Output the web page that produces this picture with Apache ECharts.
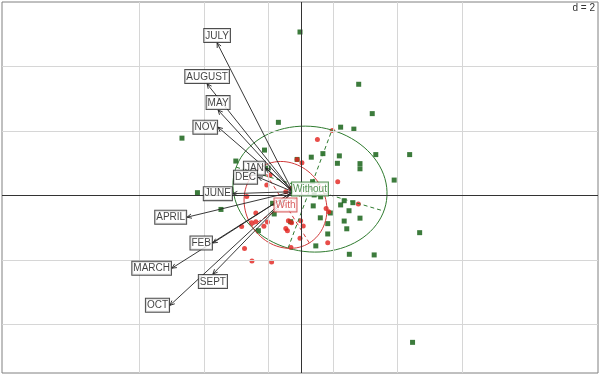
<!DOCTYPE html>
<html>
<head>
<meta charset="utf-8">
<script src="https://cdn.jsdelivr.net/npm/echarts@6/dist/echarts.min.js"></script>
<style>
  html, body { margin: 0; padding: 0; background: #fff; }
  #chart-container { width: 600px; height: 375px; }
</style>
</head>
<body>
<div id="chart-container"></div>
<script>
// 月份箭头 (arrow tips, factor-map units, d = 2)
var months = ['JULY', 'AUGUST', 'MAY', 'NOV', 'JAN', 'DEC', 'JUNE', 'APRIL', 'FEB', 'MARCH', 'SEPT', 'OCT'];
var monthX = [-2.60, -2.91, -2.57, -2.57, -1.09, -1.33, -2.11, -3.53, -2.73, -4.00, -2.73, -4.06];
var monthY = [4.73, 3.46, 2.65, 2.12, 0.85, 0.57, 0.06, -0.67, -1.47, -2.25, -2.43, -3.40];
var arrowOrigin = [-0.25, 0.12];

// 点 - Without (green squares)
var withoutX = [-0.03, 1.79, 2.21, 1.23, 1.64, 0.32, 0.68, 1.19, 1.13, 2.32, 3.37, 1.83, 1.83, 2.89, 0.36, 1.34,
  1.61, 1.23, 1.49, 0.91, 0.60, 1.34, 1.83, 0.83, 1.42, 0.83, 0.46, 1.50, 2.27, 3.68, 3.46, 0.41, 0.61, 0.38,
  -0.70, -1.13, -2.02, -0.12, -1.02, -0.88, -0.83, -1.32, -0.32, -3.21, -2.48, -3.69];
var withoutY = [5.07, 3.45, 2.54, 2.12, 2.06, 1.19, 1.30, 1.23, 1.00, 1.27, 1.27, 0.99, 0.83, 0.48, 0.43, -0.16,
  -0.22, -0.29, -0.47, -0.54, -0.69, -0.79, -0.70, -0.87, -1.03, -1.19, -1.56, -1.82, -1.84, -1.15, -4.55, 0.02, -0.04, -0.32,
  2.27, 1.41, 1.07, 1.12, 0.85, -0.24, -0.57, -1.09, -0.81, 0.09, -0.43, 1.78];

// 点 - With (red dots)
var withX = [0.97, 0.51, 1.14, 0.03, 1.78, 0.78, 0.86, -0.01, 0.07, 0.83, -0.03, -0.96, -1.06, -0.31, -0.47, -1.68,
  -1.40, -0.39, -0.29, -1.40, -1.15, -1.04, -1.84, -0.47, -0.42, -0.31, -1.75, -1.52, -0.91, -1.53, -0.12];
var withY = [2.02, 1.74, 0.43, 1.02, -0.26, -0.40, -0.50, -0.78, -0.94, -1.46, -1.32, 0.64, 0.33, 0.22, 0.12, -0.03,
  -0.54, -0.78, -0.84, -0.81, -0.95, -0.82, -0.96, -1.02, -1.09, -1.61, -1.64, -2.03, -2.06, -0.84, 1.12];

// 类别 (class centres and ellipse half-axes)
var classNames = ['Without', 'With'];
var classColors = ['#2e7a2e', '#d03a3a'];
var centreX = [0.28, -0.48];
var centreY = [0.20, -0.29];
var ellAxis1 = [[0.68, 1.83], [-0.74, 1.18]];
var ellAxis2 = [[2.29, -0.68], [1.05, 0.65]];

// 网格线
var gridX = [-5, -3, -1, 1, 3, 5];
var gridY = [-4, -2, 2, 4];

var container = document.getElementById('chart-container');
var myChart = echarts.init(container);

function zip(xs, ys) {
  return xs.map(function (x, i) { return [x, ys[i]]; });
}

// label position: above if the arrow is mostly vertical, else at the side
function labelPos(i) {
  var dx = monthX[i] - arrowOrigin[0];
  var dy = monthY[i] - arrowOrigin[1];
  if (Math.abs(dy) > Math.abs(dx)) return dy > 0 ? 'top' : 'bottom';
  return dx < 0 ? 'left' : 'right';
}

var gridLines = gridX.map(function (v) { return { xAxis: v }; })
  .concat(gridY.map(function (v) { return { yAxis: v }; }));

myChart.setOption({
  animation: false,
  grid: {
    left: 2, right: 2, top: 2, bottom: 2,
    show: true,
    borderColor: '#808080',
    borderWidth: 1
  },
  xAxis: {
    type: 'value', min: -9.27, max: 9.21,
    axisLine: { show: false }, axisTick: { show: false },
    axisLabel: { show: false }, splitLine: { show: false }
  },
  yAxis: {
    type: 'value', min: -5.50, max: 6.0,
    axisLine: { show: false }, axisTick: { show: false },
    axisLabel: { show: false }, splitLine: { show: false }
  },
  graphic: [{
    type: 'text',
    right: 5, top: 3,
    style: { text: 'd = 2', fill: '#333', font: '10px "Liberation Sans", Arial, sans-serif' }
  }],
  series: [
    {
      // 网格 + 原点线
      type: 'line',
      data: [],
      z: 1,
      markLine: {
        silent: true,
        symbol: 'none',
        label: { show: false },
        lineStyle: { color: '#d6d6d6', type: 'solid', width: 1 },
        data: gridLines.concat([
          { xAxis: 0, lineStyle: { color: '#333', width: 1 } },
          { yAxis: 0, lineStyle: { color: '#333', width: 1 } }
        ])
      }
    },
    {
      name: 'Without',
      type: 'scatter',
      symbol: 'rect',
      symbolSize: 5,
      itemStyle: { color: '#0b5a0b' },
      data: zip(withoutX, withoutY),
      z: 2
    },
    {
      name: 'With',
      type: 'scatter',
      symbol: 'circle',
      symbolSize: 5,
      itemStyle: { color: '#e2211c' },
      data: zip(withX, withY),
      z: 3
    },
    {
      // 椭圆 + 虚线轴
      type: 'custom',
      z: 4,
      silent: true,
      data: zip(centreX, centreY),
      encode: { x: 0, y: 1 },
      renderItem: function (params, api) {
        var i = params.dataIndex;
        var cx = api.value(0), cy = api.value(1);
        var a = ellAxis1[i], b = ellAxis2[i];
        var pts = [];
        for (var k = 0; k <= 90; k++) {
          var t = Math.PI * 2 * k / 90;
          pts.push(api.coord([cx + a[0] * Math.cos(t) + b[0] * Math.sin(t),
                              cy + a[1] * Math.cos(t) + b[1] * Math.sin(t)]));
        }
        var col = classColors[i];
        function seg(v) {
          var p1 = api.coord([cx - v[0], cy - v[1]]);
          var p2 = api.coord([cx + v[0], cy + v[1]]);
          return {
            type: 'line',
            shape: { x1: p1[0], y1: p1[1], x2: p2[0], y2: p2[1] },
            style: { stroke: col, lineWidth: 1, lineDash: [4, 3] }
          };
        }
        return {
          type: 'group',
          children: [
            { type: 'polyline', shape: { points: pts }, style: { stroke: col, fill: null, lineWidth: 1 } },
            seg(a), seg(b)
          ]
        };
      }
    },
    {
      // 月份箭头
      type: 'custom',
      z: 5,
      silent: true,
      data: zip(monthX, monthY),
      encode: { x: 0, y: 1 },
      renderItem: function (params, api) {
        var p1 = api.coord(arrowOrigin);
        var p2 = api.coord([api.value(0), api.value(1)]);
        var ang = Math.atan2(p2[1] - p1[1], p2[0] - p1[0]);
        var len = 5, spread = 0.45;
        var h1 = [p2[0] - len * Math.cos(ang - spread), p2[1] - len * Math.sin(ang - spread)];
        var h2 = [p2[0] - len * Math.cos(ang + spread), p2[1] - len * Math.sin(ang + spread)];
        return {
          type: 'group',
          children: [
            { type: 'line', shape: { x1: p1[0], y1: p1[1], x2: p2[0], y2: p2[1] },
              style: { stroke: '#222', lineWidth: 0.9 } },
            { type: 'polyline', shape: { points: [h1, p2, h2] },
              style: { stroke: '#222', fill: null, lineWidth: 0.9 } }
          ]
        };
      }
    },
    {
      // 月份标签
      type: 'scatter',
      z: 6,
      silent: true,
      symbolSize: 0,
      data: months.map(function (m, i) {
        return {
          name: m,
          value: [monthX[i], monthY[i]],
          label: { position: labelPos(i) }
        };
      }),
      label: {
        show: true,
        formatter: '{b}',
        distance: 1,
        color: '#111',
        fontSize: 10,
        fontFamily: 'Liberation Sans',
        backgroundColor: '#fff',
        borderColor: '#222',
        borderWidth: 1,
        padding: [2, 1, 1, 1]
      }
    },
    {
      // 类别标签
      type: 'scatter',
      z: 7,
      silent: true,
      symbolSize: 0,
      data: classNames.map(function (n, i) {
        return {
          name: n,
          value: [centreX[i], centreY[i]],
          label: { color: classColors[i], borderColor: classColors[i] }
        };
      }),
      label: {
        show: true,
        position: 'inside',
        formatter: '{b}',
        fontSize: 10,
        fontFamily: 'Liberation Sans',
        backgroundColor: '#fff',
        borderWidth: 1,
        padding: [2, 1, 1, 1]
      }
    }
  ]
});
</script>
</body>
</html>
